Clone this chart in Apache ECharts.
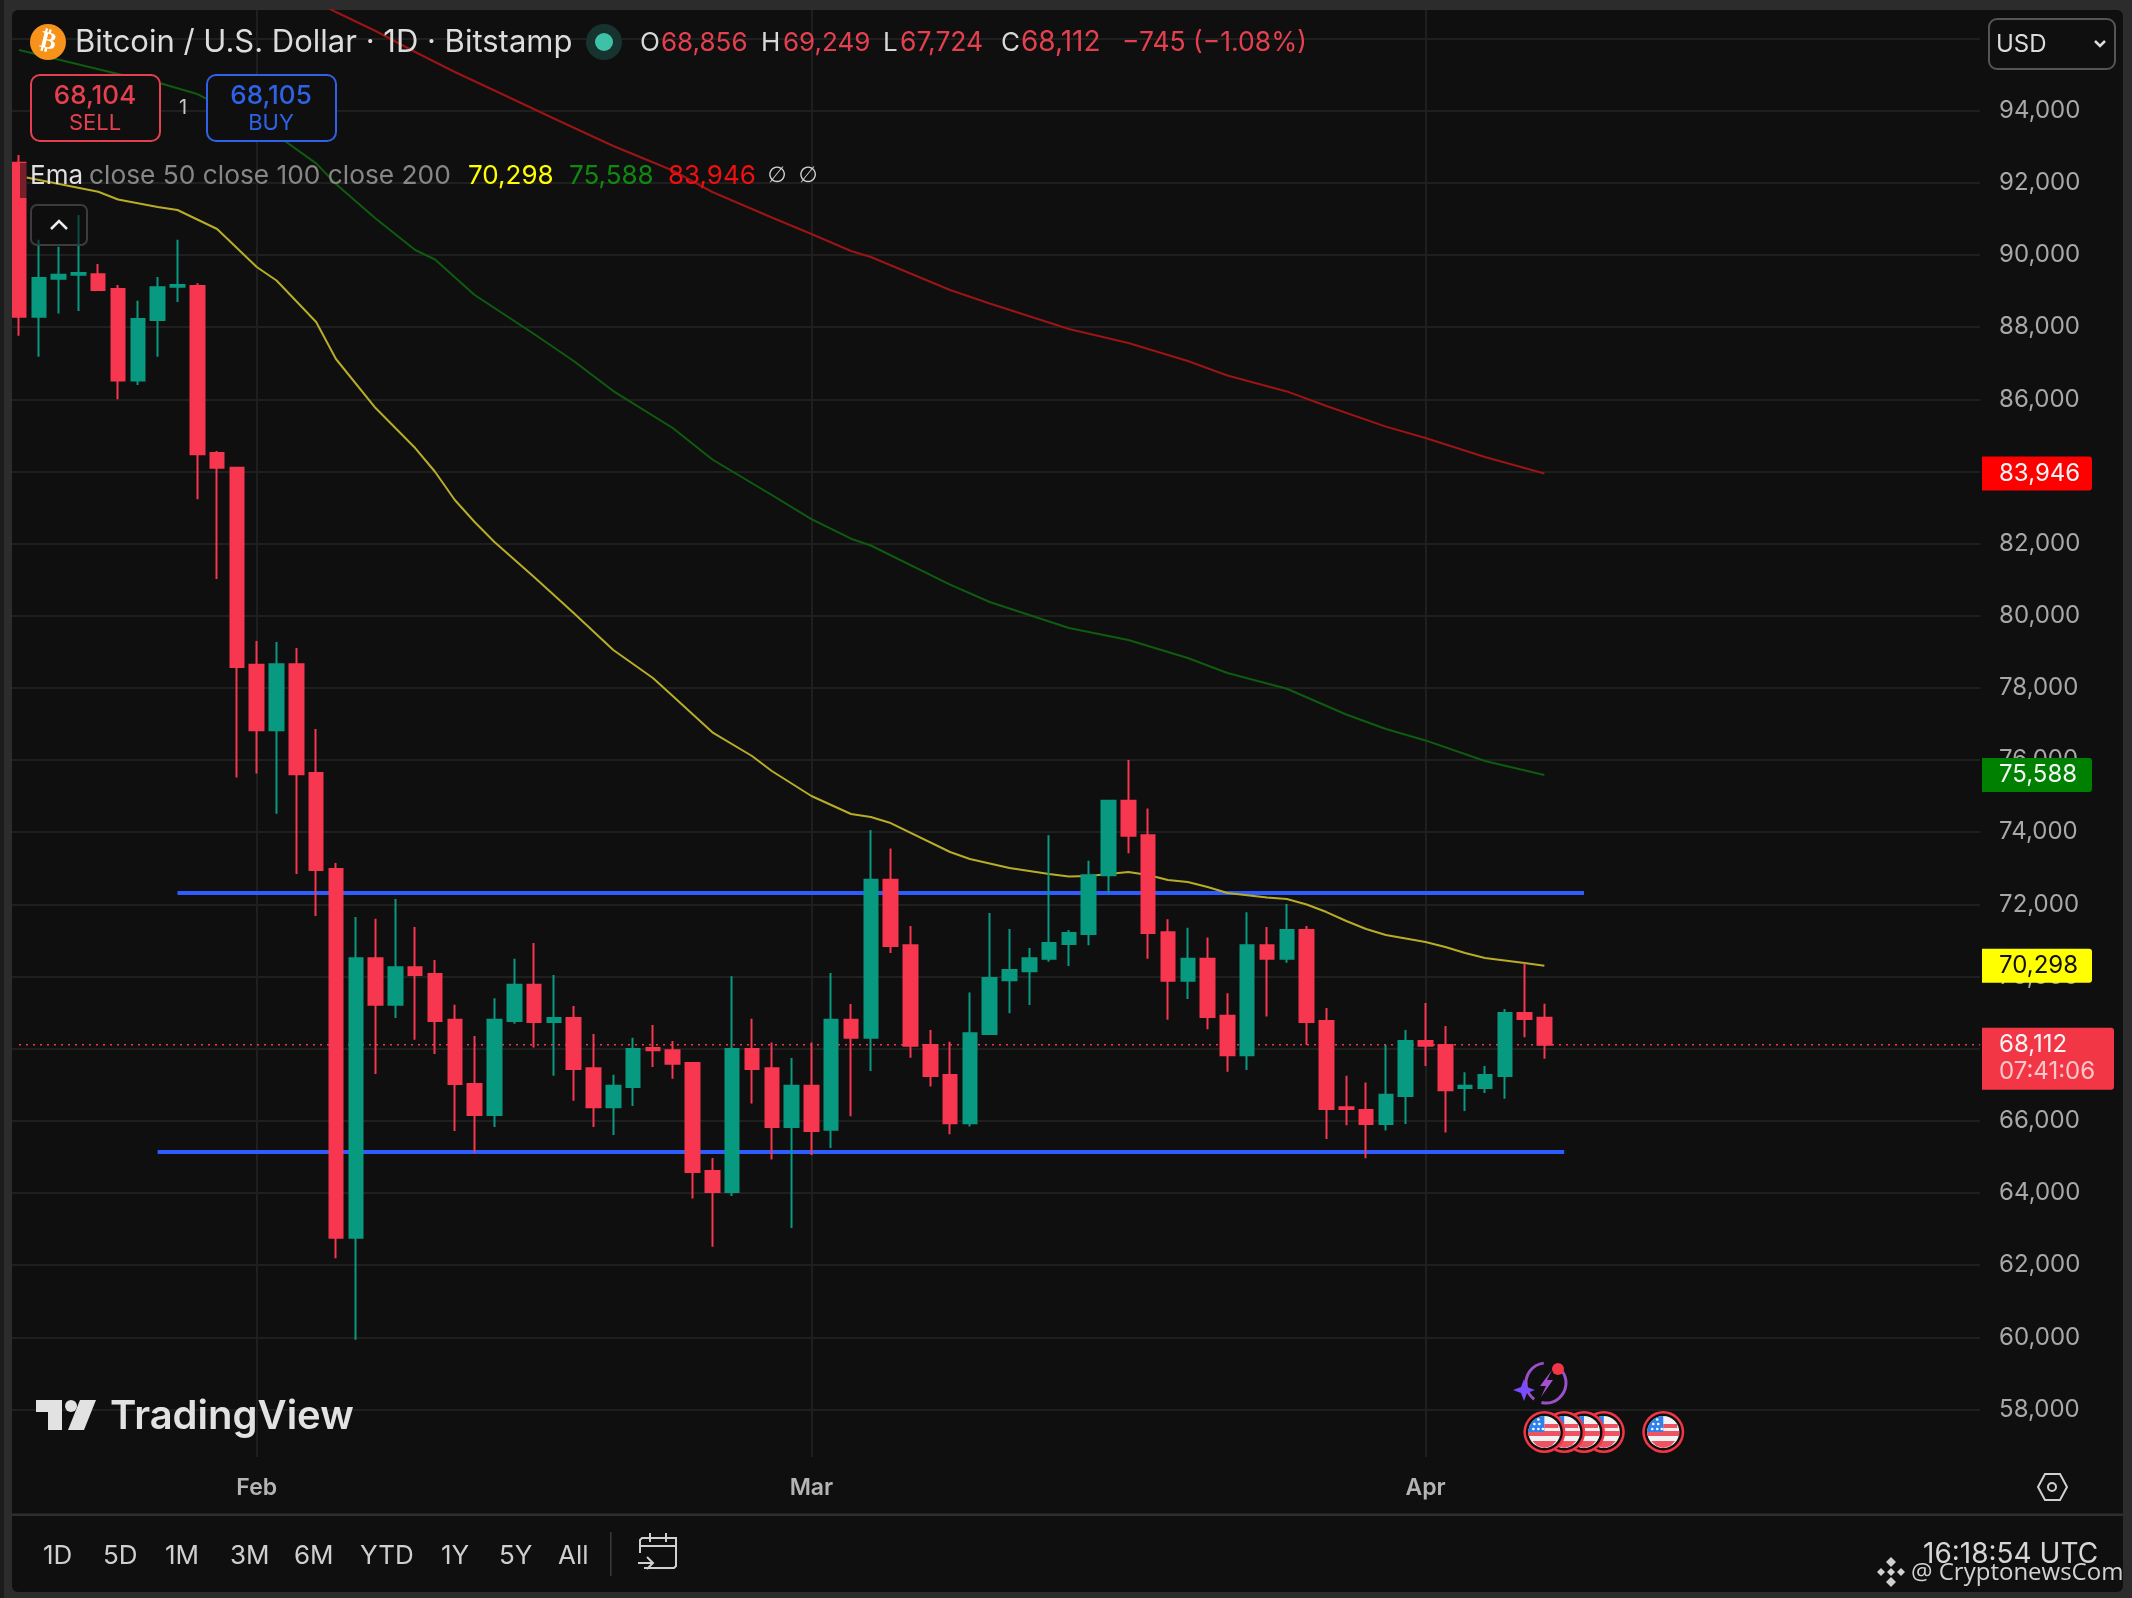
<!DOCTYPE html>
<html>
<head>
<meta charset="utf-8">
<title>BTCUSD</title>
<script src="https://cdn.jsdelivr.net/npm/echarts@6/dist/echarts.min.js"></script>
<style>
  html, body { margin: 0; padding: 0; background: #2c2c2c; overflow: hidden; }
  #panel { position: absolute; left: 12px; top: 10px; width: 2111px; height: 1582px; background: #0f0f0f; border-radius: 6px; }
  #chart { position: absolute; left: 0; top: 0; width: 2132px; height: 1598px; }
</style>
</head>
<body>
<div id="panel"></div>
<div id="chart"></div>
<script>
// daily candles, Jan 20 -> Apr 7
const opens = [92560,88290,89340,89450,89470,89060,86520,88200,89120,89140,84510,84100,78640,76830,78660,75640,72980,62760,70510,69220,70260,70070,68800,67020,66160,68770,69770,68740,68850,67460,66380,66940,68020,67960,67600,64610,64030,67990,67460,65830,66970,65750,68800,68300,72680,70870,68100,67270,65930,68410,69900,70150,70490,70900,71180,72810,74870,73920,71230,69880,70490,68910,67820,70870,70490,71290,68770,66380,66300,65910,66690,68210,68100,66910,66910,67240,68990,68856];
const closes = [88290,89360,89450,89500,89030,86520,88230,89110,89170,84480,84100,78580,76830,78660,75610,72950,62760,70510,69220,70260,70040,68770,67020,66160,68800,69770,68740,68850,67440,66380,66970,67990,67960,67580,64580,64030,67990,67440,65830,66970,65720,68800,68300,72680,70850,68080,67240,65930,68430,69960,70180,70510,70930,71210,72810,74870,73900,71210,69880,70490,68880,67820,70870,70490,71290,68740,66330,66330,65910,66720,68210,68080,66850,66970,67270,68990,68820,68112];
const lows = [87760,87180,88380,88450,89030,86000,86400,87180,88700,83230,81020,75520,75630,74510,72840,71680,62190,59930,67300,68850,68250,67850,65720,65110,65830,68690,68030,67250,66560,65830,65610,66410,67490,67170,63850,62510,63920,66480,64930,63030,65050,65250,66130,67380,70650,67750,66950,65630,65840,68380,68980,69210,70410,70290,70870,72310,73420,70490,68800,69380,68540,67360,67410,68890,70380,68100,65500,65880,64960,65730,65910,67520,65680,66270,66770,66610,68320,67724];
const highs = [92770,90420,90230,91110,89750,89170,88730,89390,90420,89220,84570,84130,79300,79270,79110,76860,73150,71650,71600,72150,71370,70460,69220,68350,69400,70490,70930,70040,69180,68410,67280,68300,68660,68210,67630,64970,70010,68830,68170,67740,68170,70100,69240,74060,73550,71400,68520,68190,69560,71760,71320,70790,73920,71290,73210,74890,76000,74660,71590,71350,71080,69540,71780,71370,72010,71400,69130,67250,67060,68100,68520,69270,68630,67350,67520,69100,70370,69249];

// moving averages as [candle index, price]
const ema50 = [[0,92190],[4,91755],[5,91539],[7,91331],[8,91248],[10,90721],[12,89668],[13,89293],[15,88143],[16,87118],[18,85759],[20,84650],[21,83993],[22,83209],[23,82599],[24,82045],[26,81075],[28,80077],[30,79051],[32,78275],[33,77776],[35,76770],[37,76113],[38,75697],[40,75004],[42,74505],[43,74422],[44,74255],[47,73452],[48,73258],[50,73008],[52,72842],[53,72772],[54,72786],[56,72897],[57,72814],[58,72675],[59,72620],[60,72481],[61,72315],[63,72190],[64,72149],[65,71996],[66,71788],[67,71539],[68,71317],[69,71151],[71,70957],[72,70818],[73,70652],[74,70513],[75,70444],[76,70375],[77,70298]];
const ema100 = [[0,95683],[5,95018],[7,94782],[9,94463],[12,93632],[13,93327],[15,92542],[16,91969],[18,91012],[20,90139],[21,89876],[23,88892],[26,87811],[28,87062],[30,86230],[33,85205],[35,84332],[38,83348],[40,82682],[42,82136],[43,81948],[47,80864],[49,80382],[51,80021],[53,79661],[56,79328],[59,78829],[61,78413],[64,77978],[67,77263],[69,76861],[71,76545],[74,75974],[77,75588]];
const ema200 = [[15,97014],[16,96736],[18,96210],[20,95628],[22,95073],[24,94560],[27,93784],[30,93022],[33,92343],[35,91747],[38,91040],[40,90582],[42,90111],[43,89945],[47,89030],[49,88656],[53,87949],[56,87561],[59,87062],[61,86660],[64,86219],[66,85815],[69,85244],[71,84928],[74,84401],[77,83946]];

// the two hand drawn levels
const upperLevel = [[8,72315],[79,72315]];
const lowerLevel = [[7,65136],[78,65136]];
const lastPrice = [[0,68112],[99,68112]];
const countdown = '07:41:06';

const priceTicks = [58000,60000,62000,64000,66000,68000,70000,72000,74000,76000,78000,80000,82000,84000,86000,88000,90000,92000,94000];
const gridOnlyTicks = [96000];
const priceTags = [83946,75588,70298,68112];
const tagFill = ['#ff0000','#008000','#ffff00','#f23645'];
const tagText = ['#f4f4f4','#f4f4f4','#111111','#f4f4f4'];
const monthTicks = {12:'Feb',40:'Mar',71:'Apr'};
const flagDays = [80,79,78,77,83];
const rangeLabels = [['1D',43],['5D',103],['1M',165],['3M',230],['6M',294],['YTD',360],['1Y',441],['5Y',499],['All',558]];

const days = [];
for (let i = 0; i < 100; i++) {
    const d = new Date(Date.UTC(2026, 0, 20 + i));
    days.push(d.toISOString().slice(0, 10));
}

const UP = '#089a80', DOWN = '#f7374f', FONT = 'Inter';

function t(x, y, text, fill, font, align) {
    return { type: 'text', x: x, y: y, style: { text: text, fill: fill, font: font, align: align || 'left', verticalAlign: 'middle' } };
}
function rect(x, y, w, h, r, fill, stroke, lw) {
    return { type: 'rect', shape: { x: x, y: y, width: w, height: h, r: r || 0 }, style: { fill: fill || 'none', stroke: stroke || 'none', lineWidth: lw || 1 } };
}
function circle(cx, cy, r, fill, stroke, lw) {
    return { type: 'circle', shape: { cx: cx, cy: cy, r: r }, style: { fill: fill || 'none', stroke: stroke || 'none', lineWidth: lw || 1 } };
}
function line(points, stroke, lw) {
    return { type: 'polyline', shape: { points: points }, style: { fill: 'none', stroke: stroke, lineWidth: lw || 2 } };
}
function poly(points, fill, stroke, lw) {
    return { type: 'polygon', shape: { points: points }, style: { fill: fill || 'none', stroke: stroke || 'none', lineWidth: lw || 1 } };
}
function arc(cx, cy, r, a, b, stroke, lw) {
    return { type: 'arc', shape: { cx: cx, cy: cy, r: r, startAngle: a, endAngle: b }, style: { fill: 'none', stroke: stroke, lineWidth: lw } };
}

function diamond(cx, cy, r) {
    return poly([[cx - r, cy], [cx, cy - r], [cx + r, cy], [cx, cy + r]], '#d0d0d0');
}

// header, buttons, bottom bar: everything that is not a mark
const overlay = [
    rect(0, 0, 12, 1598, 0, '#2c2c2c'),
    rect(0, 0, 4, 1598, 0, '#1c1c1c'),
    rect(20, 163, 7, 35, 0, 'rgba(15,15,15,0.55)'),

    circle(48, 42, 18, '#f7931a'),
    Object.assign(t(48, 42, '₿', '#ffffff', 'bold 24px "DejaVu Sans"', 'center'), { rotation: -0.24 }),
    t(75, 43, 'Bitcoin / U.S. Dollar · 1D · Bitstamp', '#dddddd', '31px ' + FONT),
    circle(604, 42, 18, '#17332f'),
    circle(604, 42, 9, '#3fc1a8'),
    t(640, 43, 'O', '#d8d8d8', '26px ' + FONT),
    t(661, 43, '68,856', '#e5404f', '26px ' + FONT),
    t(761, 43, 'H', '#d8d8d8', '26px ' + FONT),
    t(783, 43, '69,249', '#e5404f', '26px ' + FONT),
    t(883, 43, 'L', '#d8d8d8', '26px ' + FONT),
    t(900, 43, '67,724', '#e5404f', '26.5px ' + FONT),
    t(1001, 43, 'C', '#d8d8d8', '26px ' + FONT),
    t(1021, 43, '68,112', '#e5404f', '28px ' + FONT),
    t(1122, 43, '−745 (−1.08%)', '#e5404f', '26.5px ' + FONT),

    rect(31, 75, 129, 66, 9, '#0f0f0f', '#e5404f', 2),
    t(95, 96, '68,104', '#e5404f', '500 26px ' + FONT, 'center'),
    t(95, 123, 'SELL', '#e5404f', '22px ' + FONT, 'center'),
    t(183, 108, '1', '#c8c8c8', '20px ' + FONT, 'center'),
    rect(207, 75, 129, 66, 9, '#0f0f0f', '#2f62e8', 2),
    t(271, 96, '68,105', '#2f62e8', '500 26px ' + FONT, 'center'),
    t(271, 123, 'BUY', '#2f62e8', '22px ' + FONT, 'center'),

    t(30, 176, 'Ema', '#e0e0e0', '26px ' + FONT),
    t(89, 176, 'close 50 close 100 close 200', '#868686', '26.3px ' + FONT),
    t(468, 176, '70,298', '#ffff00', '26px ' + FONT),
    t(569, 176, '75,588', '#0f8a0f', '26px ' + FONT),
    t(668, 176, '83,946', '#f01010', '26px ' + FONT),
    t(777, 176, '∅', '#d0d0d0', '22px "DejaVu Sans"', 'center'),
    t(808, 176, '∅', '#d0d0d0', '22px "DejaVu Sans"', 'center'),

    rect(31, 205, 56, 40, 6, 'rgba(15,15,15,0.55)', '#3c3c3c', 2),
    line([[51, 229], [59, 221], [67, 229]], '#ececec', 2.5),

    rect(1989, 19, 126, 50, 8, '#0f0f0f', '#555555', 2),
    t(1996, 45, 'USD', '#dcdcdc', '24px ' + FONT),
    line([[2095, 41], [2100, 46], [2105, 41]], '#dcdcdc', 2.5),

    poly([[2038, 1487], [2045, 1474], [2060, 1474], [2067, 1487], [2060, 1500], [2045, 1500]], null, '#d0d0d0', 2),
    circle(2052, 1487, 4, null, '#d0d0d0', 2),

    rect(12, 1513.5, 2111, 2.5, 0, '#2e2e2e'),
    rect(610, 1532, 1.5, 44, 0, '#3a3a3a'),
    line([[644, 1568], [674, 1568], [676, 1566], [676, 1538], [642, 1538], [640, 1540], [640, 1553]], '#d0d0d0', 2),
    line([[640, 1546], [676, 1546]], '#d0d0d0', 2),
    line([[650, 1533], [650, 1542]], '#d0d0d0', 2),
    line([[666, 1533], [666, 1542]], '#d0d0d0', 2),
    line([[638, 1563], [653, 1563]], '#d0d0d0', 2),
    line([[647, 1557], [653, 1563], [647, 1569]], '#d0d0d0', 2),

    // watermark logo
    poly([[36, 1400], [62, 1400], [62, 1430], [48, 1430], [48, 1412], [36, 1412]], '#e2e2e2'),
    circle(71, 1406, 6, '#e2e2e2'),
    poly([[80, 1400], [96, 1400], [84, 1430], [68, 1430]], '#e2e2e2'),
    t(110, 1417, 'TradingView', '#e2e2e2', '600 40px ' + FONT),

    t(1923, 1555, '16:18:54 UTC', '#d6d6d6', '28px ' + FONT),
    t(1911, 1573, '@ CryptonewsCom', '#d2d2d2', '24px "Open Sans"'),
    diamond(1891, 1562, 5), diamond(1881, 1572, 4), diamond(1901, 1572, 4), diamond(1891, 1572, 4), diamond(1891, 1582, 5),

    // event icons above the flags
    arc(1546, 1383, 20, 2.2, 4.6, '#9b4fc9', 3),
    arc(1546, 1383, 20, -0.7, 1.8, '#9b4fc9', 3),
    poly([[1552, 1370], [1540, 1386], [1546, 1386], [1541, 1397], [1553, 1380], [1547, 1380]], '#a550cf'),
    circle(1558, 1369, 6, '#f23645'),
    poly([[1524, 1379], [1527, 1387], [1535, 1390], [1527, 1393], [1524, 1401], [1521, 1393], [1513, 1390], [1521, 1387]], '#7a4cff')
];
rangeLabels.forEach(r => overlay.push(t(r[1], 1556, r[0], '#cfcfcf', '26px ' + FONT)));
overlay.forEach(el => { el.z = 50; el.silent = true; });
// hides the last bit of the split lines beside the price scale
const lineStop = rect(1980, 10, 14, 1447, 0, '#0f0f0f');
lineStop.z = 1; lineStop.silent = true;
overlay.push(lineStop);

// price tag on the axis, y comes from the axis scale
function renderTag(params, api) {
    const i = api.value(0);
    const y = api.coord([0, api.value(1)])[1];
    const last = i === priceTags.length - 1;
    const label = api.value(1).toLocaleString('en-US');
    const kids = [
        { type: 'rect', shape: { x: 1982, y: y - 17, width: last ? 132 : 110, height: last ? 62 : 34, r: [0, 3, 3, 0] }, style: { fill: tagFill[i] } },
        { type: 'text', x: 1999, y: y, style: { text: label, fill: tagText[i], font: '24px ' + FONT, verticalAlign: 'middle' } }
    ];
    if (last) {
        kids.push({ type: 'text', x: 1999, y: y + 27, style: { text: countdown, fill: 'rgba(255,255,255,0.72)', font: '24px ' + FONT, verticalAlign: 'middle' } });
    }
    return { type: 'group', children: kids };
}

// one us flag coin, x comes from the category scale
function renderFlag(params, api) {
    const cx = api.coord([api.value(0), 60000])[0];
    const cy = 1432;
    const kids = [
        { type: 'circle', shape: { cx: cx, cy: cy, r: 21 }, style: { fill: '#f23645' } },
        { type: 'circle', shape: { cx: cx, cy: cy, r: 18.5 }, style: { fill: '#0f0f0f' } },
        { type: 'circle', shape: { cx: cx, cy: cy, r: 16 }, style: { fill: '#f2f2f2' } },
        { type: 'rect', shape: { x: cx, y: cy - 8, width: 14, height: 4 }, style: { fill: '#ef5361' } },
        { type: 'rect', shape: { x: cx - 16, y: cy - 1, width: 32, height: 5 }, style: { fill: '#ef5361' } },
        { type: 'polygon', shape: { points: [[cx - 12, cy + 9], [cx + 12, cy + 9], [cx + 7, cy + 14], [cx, cy + 16], [cx - 7, cy + 14]] }, style: { fill: '#ef5361' } },
        { type: 'sector', shape: { cx: cx, cy: cy, r: 16, r0: 0, startAngle: Math.PI, endAngle: Math.PI * 1.5 }, style: { fill: '#2f80ed' } }
    ];
    [[-11, -3], [-6, -3], [-1.5, -3], [-10, -8], [-5, -8], [-6, -12.5]].forEach(p => {
        kids.push({ type: 'circle', shape: { cx: cx + p[0], cy: cy + p[1], r: 1.3 }, style: { fill: '#ffffff' } });
    });
    return { type: 'group', children: kids };
}

const chart = echarts.init(document.getElementById('chart'));
chart.setOption({
    backgroundColor: 'transparent',
    animation: false,
    textStyle: { fontFamily: FONT },
    grid: { left: 9.1, top: 10, width: 1981, height: 1447 },
    xAxis: {
        type: 'category',
        data: days,
        axisLine: { show: false },
        axisTick: { show: false },
        splitLine: {
            show: true,
            alignWithLabel: true,
            interval: (i) => monthTicks[i] !== undefined,
            lineStyle: { color: '#1f1f1f', width: 2 }
        },
        axisLabel: {
            interval: (i) => monthTicks[i] !== undefined,
            formatter: (v, i) => monthTicks[i] || '',
            color: '#b4b4b4',
            fontFamily: FONT,
            fontWeight: 600,
            fontSize: 23,
            margin: 20
        }
    },
    yAxis: {
        type: 'value',
        position: 'right',
        min: 56682,
        max: 96792,
        axisLine: { show: false },
        axisTick: { show: false, customValues: priceTicks.concat(gridOnlyTicks) },
        splitLine: { show: true, lineStyle: { color: '#1f1f1f', width: 2 } },
        axisLabel: {
            customValues: priceTicks,
            inside: false,
            margin: 9,
            align: 'left',
            color: '#a8a8a8',
            fontFamily: FONT,
            fontSize: 24,
            formatter: (v) => v.toLocaleString('en-US')
        }
    },
    graphic: overlay,
    series: [
        { type: 'line', name: 'upper', data: upperLevel, showSymbol: false, z: 2, lineStyle: { color: '#2f5cff', width: 4 } },
        { type: 'line', name: 'lower', data: lowerLevel, showSymbol: false, z: 2, lineStyle: { color: '#2f5cff', width: 4 } },
        { type: 'line', name: 'last', data: lastPrice, showSymbol: false, z: 2, lineStyle: { color: '#f23645', width: 1.5, type: [2, 5] } },
        { type: 'line', name: 'EMA 200', data: ema200, showSymbol: false, z: 3, lineStyle: { color: '#9c1414', width: 2 } },
        { type: 'line', name: 'EMA 100', data: ema100, showSymbol: false, z: 3, lineStyle: { color: '#0f5c10', width: 2 } },
        { type: 'line', name: 'EMA 50', data: ema50, showSymbol: false, z: 3, lineStyle: { color: '#b9ad28', width: 2 } },
        {
            type: 'candlestick',
            name: 'BTCUSD',
            z: 4,
            barWidth: 14,
            data: opens.map((o, i) => [o, closes[i], lows[i], highs[i]]),
            itemStyle: { color: UP, color0: DOWN, borderColor: UP, borderColor0: DOWN, borderWidth: 2 }
        },
        {
            type: 'custom',
            name: 'flags',
            clip: false,
            z: 6,
            data: flagDays.map(d => [d]),
            encode: { x: 0 },
            renderItem: renderFlag
        },
        {
            type: 'custom',
            name: 'tags',
            clip: false,
            z: 8,
            data: priceTags.map((p, i) => [i, p]),
            encode: { y: 1 },
            renderItem: renderTag
        }
    ]
});
</script>
</body>
</html>
